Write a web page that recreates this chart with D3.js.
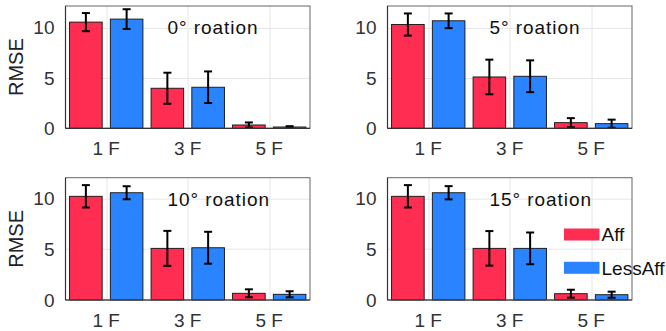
<!DOCTYPE html>
<html>
<head>
<meta charset="utf-8">
<script src="https://cdn.jsdelivr.net/npm/d3@7"></script>
<style>
  html, body { margin: 0; padding: 0; background: #fff; }
  svg { display: block; font-family: "Liberation Sans", Arial, Helvetica, sans-serif; }
</style>
</head>
<body>
<svg id="chart" width="666" height="331"></svg>
<script>
// ---------- data ----------
const categories = ["1 F", "3 F", "5 F"];
const seriesNames = ["Aff", "LessAff"];
const panelTitles = ["0° roation", "5° roation", "10° roation", "15° roation"];
const yTicks = [0, 5, 10];
const yMaxPerPanel = [12.15, 12.15, 12.03, 12.03];

// mean values [panel][series][category]
const affMean = [
  [10.55, 3.98, 0.33],
  [10.31, 5.10, 0.56],
  [10.20, 5.08, 0.66],
  [10.20, 5.08, 0.62]
];
const lessAffMean = [
  [10.85, 4.08, 0.13],
  [10.68, 5.17, 0.46],
  [10.55, 5.14, 0.56],
  [10.55, 5.08, 0.52]
];
const affErr = [
  [0.90, 1.54, 0.25],
  [1.10, 1.72, 0.45],
  [1.10, 1.72, 0.39],
  [1.10, 1.70, 0.39]
];
const lessAffErr = [
  [0.98, 1.57, 0.08],
  [0.73, 1.58, 0.40],
  [0.64, 1.57, 0.30],
  [0.65, 1.56, 0.30]
];
const colors = ["#FF2D52", "#2B84FF"];

// ---------- layout ----------
const svg = d3.select("#chart");
const colX = [65.5, 387.5];
const rowY = [6, 177.7];
const pw = 244.5, ph = [122.3, 122.3];

const means = [affMean, lessAffMean];
const errs = [affErr, lessAffErr];

panelTitles.forEach((title, p) => {
  const col = p % 2, row = Math.floor(p / 2);
  const x0 = colX[col], y0 = rowY[row], h = ph[row];
  const g = svg.append("g").attr("transform", `translate(${x0},${y0})`);

  const x = d3.scaleBand().domain(categories).range([0, pw]).padding(0);
  const y = d3.scaleLinear().domain([0, yMaxPerPanel[p]]).range([h, 0]);
  const bw = x.bandwidth();

  // grid
  g.append("g").selectAll("line.hg").data(yTicks.filter(t => t > 0)).join("line")
    .attr("x1", 0).attr("x2", pw)
    .attr("y1", d => Math.round(y(d)) + 0.5).attr("y2", d => Math.round(y(d)) + 0.5)
    .attr("stroke", "#E6E6E6").attr("stroke-width", 1);
  g.append("g").selectAll("line.vg").data(categories).join("line")
    .attr("x1", d => Math.round(x(d) + bw / 2) + 0.5).attr("x2", d => Math.round(x(d) + bw / 2) + 0.5)
    .attr("y1", 0).attr("y2", h)
    .attr("stroke", "#E6E6E6").attr("stroke-width", 1);

  // bars
  seriesNames.forEach((s, si) => {
    const off = (si === 0 ? -0.25 : 0.25) * bw;
    const w = 0.4 * bw;
    g.append("g").selectAll("rect").data(categories).join("rect")
      .attr("x", (d) => x(d) + bw / 2 + off - w / 2)
      .attr("y", (d, i) => y(means[si][p][i]))
      .attr("width", w)
      .attr("height", (d, i) => h - y(means[si][p][i]))
      .attr("fill", colors[si])
      .attr("stroke", "#111").attr("stroke-width", 0.9);
    // error bars
    const eg = g.append("g");
    categories.forEach((c, i) => {
      const cx = x(c) + bw / 2 + off;
      const m = means[si][p][i], e = errs[si][p][i];
      const lo = Math.max(0, m - e), hi = m + e;
      eg.append("line").attr("x1", cx).attr("x2", cx).attr("y1", y(lo)).attr("y2", y(hi))
        .attr("stroke", "#000").attr("stroke-width", 2);
      [lo, hi].forEach(v => {
        eg.append("line").attr("x1", cx - 4).attr("x2", cx + 4).attr("y1", y(v)).attr("y2", y(v))
          .attr("stroke", "#000").attr("stroke-width", 2);
      });
    });
  });

  // frame
  g.append("rect").attr("x", 0).attr("y", 0).attr("width", pw).attr("height", h)
    .attr("fill", "none").attr("stroke", "#666").attr("stroke-width", 1);
  g.append("line").attr("x1", 0).attr("x2", 0).attr("y1", 0).attr("y2", h)
    .attr("stroke", "#333").attr("stroke-width", 1.2);
  g.append("line").attr("x1", 0).attr("x2", pw).attr("y1", h).attr("y2", h)
    .attr("stroke", "#333").attr("stroke-width", 1.2);

  // y tick labels
  g.append("g").selectAll("text").data(yTicks).join("text")
    .attr("x", -11).attr("y", d => y(d)).attr("dy", "0.35em")
    .attr("text-anchor", "end").attr("font-size", 19).attr("fill", "#333")
    .text(d => d);

  // x tick labels
  g.append("g").selectAll("text").data(categories).join("text")
    .attr("x", d => x(d) + bw / 2).attr("y", h + 27)
    .attr("text-anchor", "middle").attr("font-size", 19).attr("fill", "#333")
    .text(d => d);

  // title
  g.append("text").attr("x", 102).attr("y", 28.3)
    .attr("font-size", 19).attr("letter-spacing", "0.95px").attr("fill", "#111")
    .text(title);

  // y label
  if (col === 0) {
    svg.append("text")
      .attr("transform", `translate(23,${y0 + h / 2}) rotate(-90)`)
      .attr("text-anchor", "middle").attr("font-size", 20).attr("fill", "#222")
      .text("RMSE");
  }

  // legend in last panel
  if (p === 3) {
    const lg = g.append("g").attr("transform", `translate(${564 - x0},${228.5 - y0})`);
    seriesNames.forEach((s, si) => {
      const ly = si * 33.3;
      lg.append("rect").attr("x", 0).attr("y", ly).attr("width", 35.5).attr("height", 12)
        .attr("fill", colors[si]);
      lg.append("text").attr("x", 37.5).attr("y", ly + 6).attr("dy", "0.36em")
        .attr("font-size", 19).attr("fill", "#111").text(s);
    });
  }
});
</script>
</body>
</html>
